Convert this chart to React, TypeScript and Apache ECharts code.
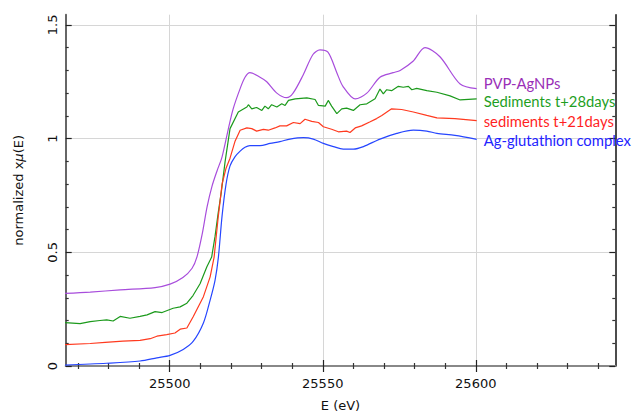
import React, { useEffect, useRef } from "react";
import * as echarts from "echarts";

// ---- data (energy eV, normalized absorption) ----
const pvpE = [25465.8, 25474, 25483.8, 25495.2, 25500.1, 25504.3, 25507.3, 25508.9, 25510.6, 25512.2, 25513.8, 25515.5, 25517.1, 25519.1, 25520.7, 25523, 25524.6, 25526.2, 25529.5, 25531.7, 25535, 25538.2, 25540.3, 25543.6, 25546.8, 25549.1, 25551.7, 25554.6, 25556.6, 25560.6, 25564.4, 25568.7, 25573, 25575.3, 25579.5, 25583.4, 25588.3, 25594.9, 25600.3];
const pvpV = [0.319, 0.325, 0.335, 0.345, 0.36, 0.389, 0.43, 0.48, 0.58, 0.70, 0.79, 0.86, 0.92, 1.04, 1.13, 1.22, 1.27, 1.29, 1.27, 1.25, 1.2, 1.18, 1.2, 1.28, 1.37, 1.39, 1.38, 1.29, 1.23, 1.175, 1.2, 1.27, 1.29, 1.3, 1.34, 1.4, 1.36, 1.24, 1.22];

const sed28E = [25465.8, 25470.7, 25474, 25477.2, 25479.4, 25481.5, 25483.8, 25487, 25490.3, 25492.6, 25495.2, 25497.5, 25501.1, 25503.4, 25505.6, 25507.6, 25509.9, 25512.1, 25513.7, 25514.8, 25515.8, 25516.8, 25518.1, 25519.7, 25522.4, 25525.2, 25525.7, 25526.8, 25528.4, 25530.1, 25531.1, 25532.2, 25533.3, 25535, 25536.6, 25537.7, 25538.8, 25541, 25544.8, 25547.5, 25548.6, 25550.8, 25551.8, 25552.9, 25554.6, 25556.2, 25557.8, 25560, 25562.2, 25564.4, 25567.1, 25568.7, 25569.8, 25570.9, 25572.5, 25574.7, 25576.3, 25578, 25579.1, 25580.7, 25584, 25587.3, 25591.6, 25594.9, 25600.3];
const sed28V = [0.191, 0.186, 0.195, 0.2, 0.203, 0.198, 0.218, 0.21, 0.218, 0.225, 0.239, 0.235, 0.254, 0.26, 0.276, 0.31, 0.362, 0.435, 0.479, 0.57, 0.67, 0.76, 0.9, 1.044, 1.117, 1.139, 1.149, 1.131, 1.137, 1.124, 1.143, 1.131, 1.149, 1.139, 1.153, 1.146, 1.168, 1.175, 1.179, 1.172, 1.146, 1.143, 1.168, 1.143, 1.11, 1.131, 1.134, 1.124, 1.149, 1.153, 1.175, 1.218, 1.197, 1.215, 1.211, 1.23, 1.226, 1.23, 1.215, 1.221, 1.211, 1.204, 1.188, 1.17, 1.175];

const sed21E = [25465.8, 25474, 25478.9, 25484.7, 25490.3, 25493.6, 25495.8, 25499, 25501.7, 25503.4, 25505.6, 25507.7, 25511, 25513.2, 25514.5, 25515.8, 25517.1, 25518.4, 25519.7, 25521.3, 25523, 25525.2, 25526.8, 25528.4, 25530.6, 25532.2, 25534.4, 25536, 25538.2, 25540.4, 25542.6, 25544.2, 25546.4, 25548.6, 25550.2, 25552.9, 25555.1, 25557.8, 25558.9, 25560.6, 25562.7, 25565.5, 25567.6, 25569.3, 25572.5, 25575.8, 25579.6, 25584, 25587.3, 25593.2, 25600.3];
const sed21V = [0.094, 0.099, 0.104, 0.109, 0.113, 0.12, 0.131, 0.138, 0.145, 0.162, 0.167, 0.218, 0.305, 0.392, 0.479, 0.65, 0.8, 0.87, 0.914, 0.987, 1.037, 1.047, 1.044, 1.033, 1.041, 1.037, 1.047, 1.056, 1.056, 1.071, 1.066, 1.085, 1.076, 1.071, 1.052, 1.041, 1.03, 1.033, 1.027, 1.047, 1.056, 1.074, 1.088, 1.102, 1.131, 1.128, 1.117, 1.102, 1.091, 1.088, 1.079];

const agsE = [25465.8, 25479.4, 25490.3, 25495.8, 25500.1, 25504.4, 25507.7, 25511, 25513.2, 25514.8, 25515.9, 25517.1, 25518.4, 25519.7, 25521.3, 25523, 25524.6, 25526.2, 25529.5, 25532.8, 25536, 25539.3, 25543.7, 25546.9, 25550.2, 25553.5, 25556.7, 25560, 25563.3, 25568.7, 25574.2, 25579.6, 25584, 25587.3, 25593.2, 25600.3];
const agsV = [0.004, 0.012, 0.022, 0.036, 0.047, 0.073, 0.109, 0.189, 0.29, 0.377, 0.479, 0.66, 0.8, 0.88, 0.92, 0.945, 0.962, 0.969, 0.969, 0.979, 0.987, 0.998, 1.004, 0.998, 0.979, 0.965, 0.954, 0.954, 0.965, 0.998, 1.023, 1.037, 1.033, 1.023, 1.014, 0.997];

const seriesNames = ["PVP-AgNPs", "Sediments t+28days", "sediments t+21days", "Ag-glutathion complex"];
const xMajor = [25500, 25550, 25600];
const xMinor = [25470, 25480, 25490, 25510, 25520, 25530, 25540, 25560, 25570, 25580, 25590, 25610, 25620, 25630, 25640];
const yMajor = [0, 0.5, 1, 1.5];
const yMinor = [0.1, 0.2, 0.3, 0.4, 0.6, 0.7, 0.8, 0.9, 1.1, 1.2, 1.3, 1.4];

const X_MIN = 25466;
const X_MAX = 25645.6;
const Y_MIN = 0;
const Y_MAX = 1.545;

const zip = (a: number[], b: number[]) => a.map((v, i) => [v, b[i]]);

export default function App() {
  const ref = useRef<HTMLDivElement>(null);
  useEffect(() => {
    if (!ref.current) return;
    const chart = echarts.init(ref.current, null, { renderer: "svg" });
    const axFont = { fontFamily: "DejaVu Sans", fontSize: 13, color: "#111" };
    const labFont = "Lato";
    const xBase = (position: string, extra: any) => ({
      type: "value",
      position,
      min: X_MIN,
      max: X_MAX,
      axisLine: { show: false },
      axisLabel: { show: false },
      splitLine: { show: false },
      ...extra,
    });
    const yBase = (position: string, extra: any) => ({
      type: "value",
      position,
      min: Y_MIN,
      max: Y_MAX,
      axisLine: { show: false },
      axisLabel: { show: false },
      splitLine: { show: false },
      ...extra,
    });
    const majorTick = (vals: number[]) => ({ show: true, inside: true, length: 6, customValues: vals, lineStyle: { color: "#222", width: 1.2 } });
    const minorTick = (vals: number[]) => ({ show: true, inside: true, length: 3, customValues: vals, lineStyle: { color: "#333", width: 1.2 } });

    const lineSeries = (name: string, data: number[][], color: string, labelColor: string, offY: number, smooth: number | boolean) => ({
      type: "line",
      name,
      data,
      xAxisIndex: 0,
      yAxisIndex: 0,
      showSymbol: false,
      symbol: "none",
      smooth,
      lineStyle: { color, width: 1.2 },
      endLabel: {
        show: true,
        formatter: name,
        color: labelColor,
        fontFamily: labFont,
        fontSize: 14.8,
        distance: 7,
        offset: [0, offY],
      },
    });

    chart.setOption({
      animation: false,
      backgroundColor: "#fff",
      grid: { left: 65.7, right: 24.7, top: 14.7, bottom: 47, containLabel: false },
      xAxis: [
        xBase("bottom", {
          axisLine: { show: true, lineStyle: { color: "#111", width: 1.5 } },
          axisTick: majorTick(xMajor),
          axisLabel: { show: true, customValues: xMajor, margin: 11, formatter: (v: number) => String(v), ...axFont },
          splitLine: { show: true, lineStyle: { color: "#d6d6d6", width: 1 } },
          name: "E (eV)",
          nameLocation: "middle",
          nameGap: 33,
          nameTextStyle: { ...axFont },
        }),
        xBase("bottom", { axisTick: minorTick(xMinor) }),
        xBase("top", { axisLine: { show: true, lineStyle: { color: "#888", width: 2 } }, axisTick: majorTick(xMajor) }),
        xBase("top", { axisTick: minorTick(xMinor) }),
      ],
      yAxis: [
        yBase("left", {
          axisLine: { show: true, lineStyle: { color: "#666", width: 2 } },
          axisTick: majorTick(yMajor),
          axisLabel: { show: true, customValues: yMajor, rotate: 90, margin: 7, formatter: (v: number) => String(v), ...axFont },
          splitLine: { show: true, lineStyle: { color: "#d6d6d6", width: 1 } },
          name: "normalized x{i|μ}(E)",
          nameLocation: "middle",
          nameGap: 41,
          nameTextStyle: { ...axFont, rich: { i: { ...axFont, fontStyle: "italic" } } },
        }),
        yBase("left", { axisTick: minorTick(yMinor) }),
        yBase("right", { axisLine: { show: true, lineStyle: { color: "#111", width: 1.5 } }, axisTick: majorTick(yMajor) }),
        yBase("right", { axisTick: minorTick(yMinor) }),
      ],
      series: [
        lineSeries(seriesNames[0], zip(pvpE, pvpV), "#a84ddc", "#9a2fb8", -6, 0.3),
        lineSeries(seriesNames[1], zip(sed28E, sed28V), "#1c9a1c", "#1f9f1f", 2, false),
        lineSeries(seriesNames[2], zip(sed21E, sed21V), "#ff3a1f", "#ff1f1f", 0, false),
        lineSeries(seriesNames[3], zip(agsE, agsV), "#2646ff", "#2323ff", 1, 0.3),
      ],
    });
    return () => chart.dispose();
  }, []);
  return <div ref={ref} style={{ position: "absolute", left: 0, top: 0, width: 640, height: 417 }} />;
}
